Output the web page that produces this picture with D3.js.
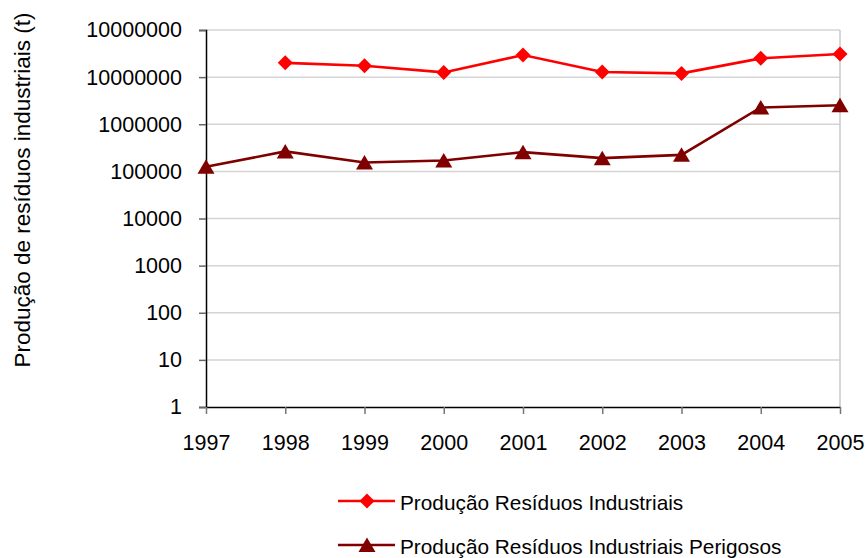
<!DOCTYPE html>
<html>
<head>
<meta charset="utf-8">
<script src="https://cdn.jsdelivr.net/npm/d3@7/dist/d3.min.js"></script>
<style>
  html, body { margin: 0; padding: 0; background: #fff; }
  svg { display: block; font-family: "Liberation Sans", Arial, sans-serif; }
</style>
</head>
<body>
<svg id="chart" width="866" height="558"></svg>
<script>
// Years on the category axis
const years = ["1997", "1998", "1999", "2000", "2001", "2002", "2003", "2004", "2005"];
// Industrial waste production (t); no figure for 1997
const residuos = [null, 20100000, 17400000, 12600000, 29400000, 12800000, 12000000, 25000000, 30900000];
// Hazardous industrial waste production (t)
const perigosos = [125000, 265000, 154000, 170000, 256000, 191000, 224000, 2270000, 2530000];
// Tick values on the log axis and the labels printed beside them
const yTickValues = [1, 10, 100, 1000, 10000, 100000, 1000000, 10000000, 100000000];
const yTickLabels = ["1", "10", "100", "1000", "10000", "100000", "1000000", "10000000", "10000000"];
const seriesNames = ["Produção Resíduos Industriais", "Produção Resíduos Industriais Perigosos"];
const yTitle = "Produção de resíduos industriais (t)";

const svg = d3.select("#chart");
const plotLeft = 206, plotRight = 840, plotTop = 30, plotBottom = 407;
const font = "Liberation Sans, Arial, sans-serif";

const x = d3.scalePoint().domain(years).range([plotLeft, plotRight]);
const y = d3.scaleLog().domain([1, 1e8]).range([plotBottom, plotTop]);

// Horizontal gridlines
svg.append("g").selectAll("line")
  .data(yTickValues.slice(1))
  .join("line")
  .attr("x1", plotLeft).attr("x2", plotRight)
  .attr("y1", d => y(d)).attr("y2", d => y(d))
  .attr("stroke", "#d4d4d4").attr("stroke-width", 1.5);

// Right border of the plot area
svg.append("line")
  .attr("x1", plotRight).attr("x2", plotRight).attr("y1", plotTop).attr("y2", plotBottom)
  .attr("stroke", "#c8c8c8").attr("stroke-width", 1.5);

// Y axis
const yAxis = d3.axisLeft(y)
  .tickValues(yTickValues)
  .tickFormat((d, i) => yTickLabels[i])
  .tickSize(7).tickPadding(17);
const gy = svg.append("g").attr("transform", `translate(${plotLeft},0)`).call(yAxis);
gy.select(".domain").attr("stroke", "#000").attr("stroke-width", 1.5);
gy.selectAll(".tick line").attr("stroke", "#666").attr("stroke-width", 1.5);
gy.selectAll(".tick text").attr("font-size", 21.5).attr("fill", "#000")
  .attr("font-family", font);

// X axis
const xAxis = d3.axisBottom(x).tickSize(7).tickPadding(21).tickSizeOuter(0);
const gx = svg.append("g").attr("transform", `translate(0,${plotBottom})`).call(xAxis);
gx.select(".domain").attr("stroke", "#000").attr("stroke-width", 1.5);
gx.selectAll(".tick line").attr("stroke", "#777").attr("stroke-width", 1.5);
gx.selectAll(".tick text").attr("font-size", 21.5).attr("fill", "#000")
  .attr("font-family", font);

// Y axis title
svg.append("text")
  .attr("transform", "translate(30,190) rotate(-90)")
  .attr("text-anchor", "middle")
  .attr("font-size", 22.5)
  .attr("font-family", font)
  .attr("fill", "#000")
  .text(yTitle);

// Marker shapes, centred on their bounding box
const diamond = () => "M0,-7.5L7.5,0L0,7.5L-7.5,0Z";
const triangle = () => "M0,-7.5L8.5,7L-8.5,7Z";

function drawSeries(values, color, shape) {
  const pts = years.map((yr, i) => ({ yr, v: values[i] })).filter(d => d.v != null);
  const line = d3.line().x(d => x(d.yr)).y(d => y(d.v));
  svg.append("path").datum(pts)
    .attr("d", line).attr("fill", "none")
    .attr("stroke", color).attr("stroke-width", 2.6);
  svg.append("g").selectAll("path")
    .data(pts).join("path")
    .attr("d", shape)
    .attr("transform", d => `translate(${x(d.yr)},${y(d.v)})`)
    .attr("fill", color);
}
drawSeries(residuos, "#ff0000", diamond);
drawSeries(perigosos, "#800000", triangle);

// Legend
const legend = [
  { name: seriesNames[0], color: "#ff0000", shape: diamond, y: 501 },
  { name: seriesNames[1], color: "#800000", shape: triangle, y: 545 }
];
const lg = svg.append("g").selectAll("g").data(legend).join("g")
  .attr("transform", d => `translate(0,${d.y})`);
lg.append("line").attr("x1", 338).attr("x2", 395).attr("y1", 0).attr("y2", 0)
  .attr("stroke", d => d.color).attr("stroke-width", 2.6);
lg.append("path").attr("d", d => d.shape()).attr("transform", "translate(367,0)")
  .attr("fill", d => d.color);
lg.append("text").attr("x", 400).attr("y", 8.5)
  .attr("font-size", 20.8).attr("font-family", font).attr("fill", "#000")
  .text(d => d.name);
</script>
</body>
</html>
